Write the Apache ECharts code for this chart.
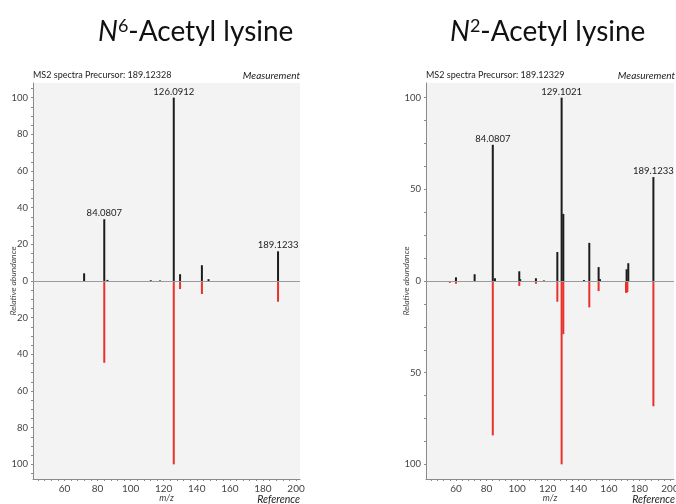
<!DOCTYPE html>
<html>
<head>
<meta charset="utf-8">
<script src="https://cdn.jsdelivr.net/npm/echarts@6/dist/echarts.min.js"></script>
<style>
html,body{margin:0;padding:0;background:#fff;}
#c{width:676px;height:504px;}
</style>
</head>
<body>
<div id="c"></div>
<script>
// ---- Data ----
// N6-Acetyl lysine
const n6MeasMz  = [71.9, 84.0807, 86.0, 112.2, 117.8, 126.0912, 129.9, 143.1, 147.1, 189.1233];
const n6MeasInt = [4.2, 33.7, 0.6, 0.4, 0.3, 100, 3.7, 8.6, 1.0, 16.2];
const n6RefMz   = [84.0807, 126.0912, 129.9, 143.1, 189.1233];
const n6RefInt  = [44.6, 100, 4.4, 7.1, 11.3];
const n6Labels  = ['84.0807', '126.0912', '189.1233'];
// N2-Acetyl lysine
const n2MeasMz  = [60.0, 72.2, 84.0807, 85.5, 101.4, 102.0, 112.3, 117.5, 126.3, 129.1021, 130.2, 143.7, 147.2, 153.3, 154.2, 171.6, 172.7, 189.1233];
const n2MeasInt = [2.0, 3.7, 74.3, 1.5, 5.3, 1.0, 1.5, 0.3, 15.8, 100, 36.6, 0.5, 20.8, 7.6, 1.0, 6.4, 9.7, 56.7];
const n2RefMz   = [56.0, 60.0, 84.0807, 101.4, 112.3, 126.3, 129.1021, 130.2, 147.2, 153.3, 171.2, 171.6, 172.1, 189.1233];
const n2RefInt  = [1.0, 1.5, 84.2, 2.7, 1.5, 11.3, 100, 29, 14.4, 5.5, 6.4, 6.4, 6.0, 68.3];
const n2Labels  = ['84.0807', '129.1021', '189.1233'];
// Axis ticks
const xTickLabels = [60, 80, 100, 120, 140, 160, 180, 200];
const xMinorTicks = [44, 48, 52, 56, 60, 64, 68, 72, 76, 80, 84, 88, 92, 96, 100, 104, 108, 112, 116, 120, 124, 128, 132, 136, 140, 144, 148, 152, 156, 160, 164, 168, 172, 176, 180, 184, 188, 192, 196, 200];
const yTickLabelsL = [-100, -80, -60, -40, -20, 0, 20, 40, 60, 80, 100];
const yMinorTicksL = [-105,-100,-95,-90,-85,-80,-75,-70,-65,-60,-55,-50,-45,-40,-35,-30,-25,-20,-15,-10,-5,0,5,10,15,20,25,30,35,40,45,50,55,60,65,70,75,80,85,90,95,100,105];
const yTickLabelsR = [-100, -50, 0, 50, 100];
const yMinorTicksR = [-100, -87.5, -75, -62.5, -50, -37.5, -25, -12.5, 0, 12.5, 25, 37.5, 50, 62.5, 75, 87.5, 100];
const headers = ['MS2 spectra Precursor: 189.12328', 'MS2 spectra Precursor: 189.12329'];

const FONT = 'Lato';
const BLACK = '#1c1c1c';
const RED = '#e8312b';

function measData(mz, it, labels) {
  return mz.map((m, i) => {
    const lbl = labels.find(l => parseFloat(l) === m);
    const d = { value: [m, it[i]] };
    if (lbl) d.label = { show: true, formatter: lbl, position: 'top', distance: 1, color: '#222', fontSize: 9.5, fontFamily: FONT };
    return d;
  });
}
function refData(mz, it) { return mz.map((m, i) => [m, -it[i]]); }

function xAxisCfg(gi, min, max) {
  return [{
    type: 'value', gridIndex: gi, min: min, max: max,
    axisLine: { show: true, onZero: false, lineStyle: { color: '#8a8a8a', width: 1 } },
    axisTick: { show: true, customValues: xMinorTicks, length: 2, lineStyle: { color: '#8a8a8a' } },
    axisLabel: { customValues: xTickLabels, color: '#444', fontSize: 10, fontFamily: FONT, margin: 5 },
    splitLine: { show: false },
    name: 'm/z', nameLocation: 'middle', nameGap: 15, nameMoveOverlap: false,
    nameTextStyle: { fontStyle: 'italic', fontSize: 9, color: '#444', fontFamily: FONT }
  }];
}
function yAxisCfg(gi, labels, minors) {
  return {
    type: 'value', gridIndex: gi, min: -108, max: 108,
    axisLine: { show: true, onZero: false, lineStyle: { color: '#8a8a8a', width: 1 } },
    axisTick: { show: true, customValues: minors, length: 2, lineStyle: { color: '#8a8a8a' } },
    axisLabel: { customValues: labels, color: '#444', fontSize: 9.5, fontFamily: FONT, margin: 5,
                 formatter: v => String(Math.abs(v)) },
    splitLine: { show: false },
    name: 'Relative abundance', nameLocation: 'middle', nameGap: 15, nameRotate: 90, nameMoveOverlap: false,
    nameTextStyle: { fontStyle: 'italic', fontSize: 8.5, color: '#444', fontFamily: FONT }
  };
}
function barSeries(xi, data, color, withZero) {
  const s = {
    type: 'bar', xAxisIndex: xi, yAxisIndex: xi, data: data,
    barWidth: 2, barGap: '-100%', itemStyle: { color: color }, silent: true, animation: false
  };
  if (withZero) s.markLine = { silent: true, symbol: 'none', animation: false,
      data: [{ yAxis: 0 }], lineStyle: { color: '#9a9a9a', type: 'solid', width: 1 }, label: { show: false } };
  return s;
}

const chart = echarts.init(document.getElementById('c'), null, { renderer: 'canvas' });
const titleRich = {
  i: { fontStyle: 'italic', fontWeight: 'normal', fontSize: 28, fontFamily: FONT, color: '#111' },
  s: { fontWeight: 'normal', fontSize: 18, fontFamily: FONT, color: '#111', verticalAlign: 'top', padding: [0, 0, 12, 0] },
  t: { fontWeight: 'normal', fontSize: 28, fontFamily: FONT, color: '#111' }
};
chart.setOption({
  animation: false,
  backgroundColor: '#fff',
  title: [
    { text: '{i|N}{s|6}{t|-Acetyl lysine}', left: 93, top: 12, textStyle: { fontWeight: 'normal', rich: titleRich } },
    { text: '{i|N}{s|2}{t|-Acetyl lysine}', left: 445, top: 12, textStyle: { fontWeight: 'normal', rich: titleRich } }
  ],
  grid: [
    { left: 33, right: 376, top: 83, bottom: 25, show: true, backgroundColor: '#f3f3f3', borderWidth: 0, outerBoundsMode: 'none', containLabel: false },
    { left: 426, right: 2, top: 83, bottom: 25, show: true, backgroundColor: '#f3f3f3', borderWidth: 0, outerBoundsMode: 'none', containLabel: false }
  ],
  xAxis: [].concat(xAxisCfg(0, 41, 202.4), xAxisCfg(1, 40.4, 202.6)),
  yAxis: [yAxisCfg(0, yTickLabelsL, yMinorTicksL), yAxisCfg(1, yTickLabelsR, yMinorTicksR)],
  series: [
    barSeries(0, measData(n6MeasMz, n6MeasInt, n6Labels), BLACK, true),
    barSeries(0, refData(n6RefMz, n6RefInt), RED, false),
    barSeries(1, measData(n2MeasMz, n2MeasInt, n2Labels), BLACK, true),
    barSeries(1, refData(n2RefMz, n2RefInt), RED, false)
  ],
  graphic: [
    { type: 'text', left: 33, top: 71, style: { text: headers[0], fontSize: 9, fontFamily: FONT, fill: '#222' } },
    { type: 'text', right: 376, top: 71, style: { text: 'Measurement', fontSize: 10, fontStyle: 'italic', fontFamily: FONT, fill: '#222' } },
    { type: 'text', right: 376, top: 494, style: { text: 'Reference', fontSize: 10.5, fontStyle: 'italic', fontFamily: FONT, fill: '#222' } },
    { type: 'text', left: 426, top: 71, style: { text: headers[1], fontSize: 9, fontFamily: FONT, fill: '#222' } },
    { type: 'text', right: 1, top: 71, style: { text: 'Measurement', fontSize: 10, fontStyle: 'italic', fontFamily: FONT, fill: '#222' } },
    { type: 'text', right: 1, top: 494, style: { text: 'Reference', fontSize: 10.5, fontStyle: 'italic', fontFamily: FONT, fill: '#222' } }
  ]
});
</script>
</body>
</html>
